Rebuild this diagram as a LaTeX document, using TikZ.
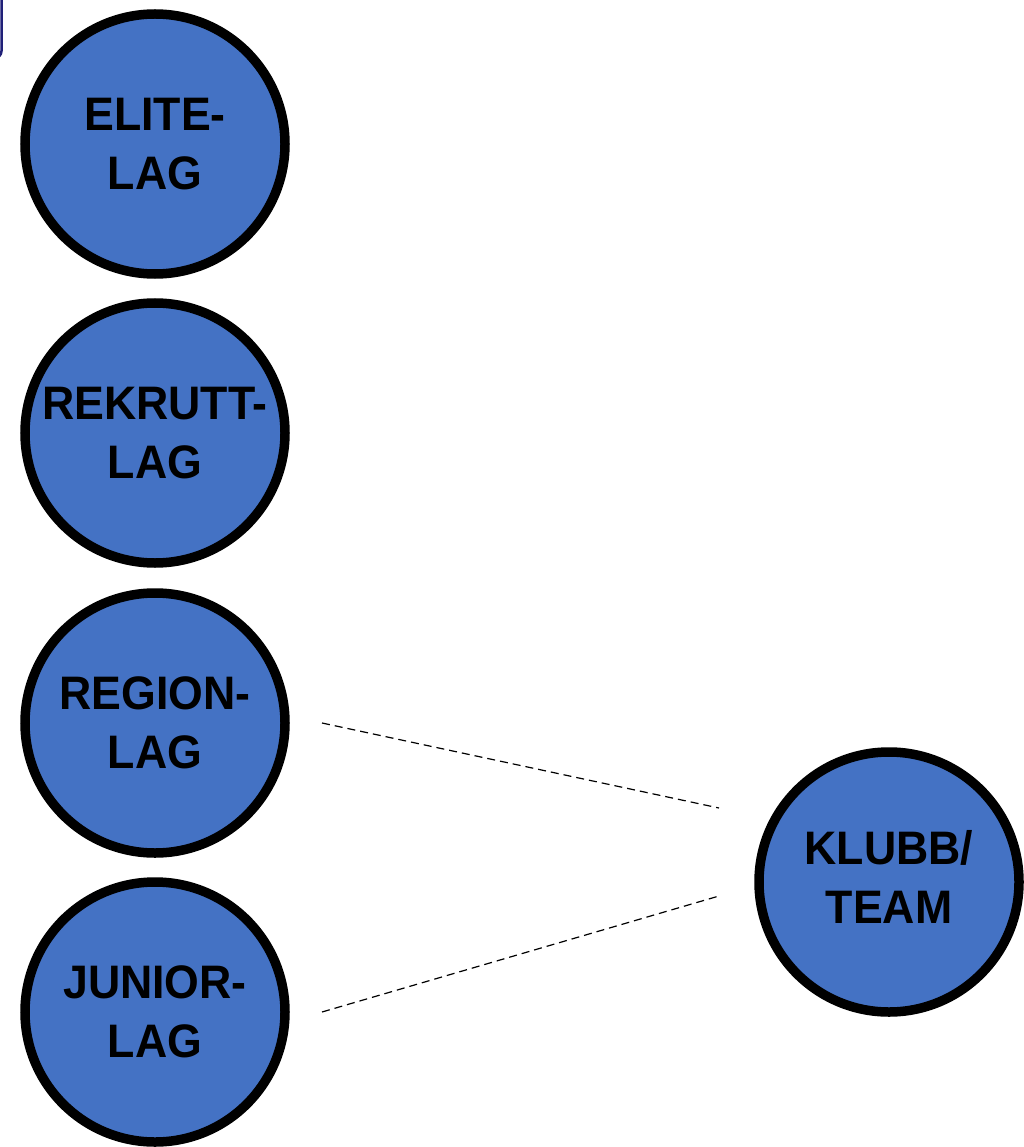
\documentclass[tikz,border=0pt]{standalone}
\usepackage{fontspec}
\newfontfamily\lab[FakeStretch=0.95]{Liberation Sans}
\definecolor{fillblue}{HTML}{4472C4}
\definecolor{navy}{RGB}{32,32,120}
\tikzset{
  team/.style={circle, draw=black, line width=9.5pt, fill=fillblue,
    minimum size=260pt, inner sep=0pt, align=center,
    font=\lab\bfseries\fontsize{47}{59}\selectfont, text=black},
  link/.style={draw=black, line width=1.2pt, dash pattern=on 8pt off 5pt}
}
\begin{document}
\begin{tikzpicture}[x=1pt,y=-1pt]
\useasboundingbox (0,0) rectangle (1023,1147);
\draw[navy, line width=2.5pt, rounded corners=7pt] (-40,-20) rectangle (1.5,58);
\node[team] (elite) at (155,144) {ELITE-\\LAG};
\node[team] (rekrutt) at (155,433) {REKRUTT-\\LAG};
\node[team] (region) at (155,723) {REGION-\\LAG};
\node[team] (junior) at (155,1012) {JUNIOR-\\LAG};
\node[team, text depth=10pt] (klubb) at (889,882) {KLUBB/\\TEAM};
\coordinate (regionend) at (322,723);
\coordinate (juniorend) at (322,1012);
\coordinate (klubbtop) at (719,808);
\coordinate (klubbbot) at (719,896);
\draw[link] (regionend) -- (klubbtop);
\draw[link] (juniorend) -- (klubbbot);
\end{tikzpicture}
\end{document}
